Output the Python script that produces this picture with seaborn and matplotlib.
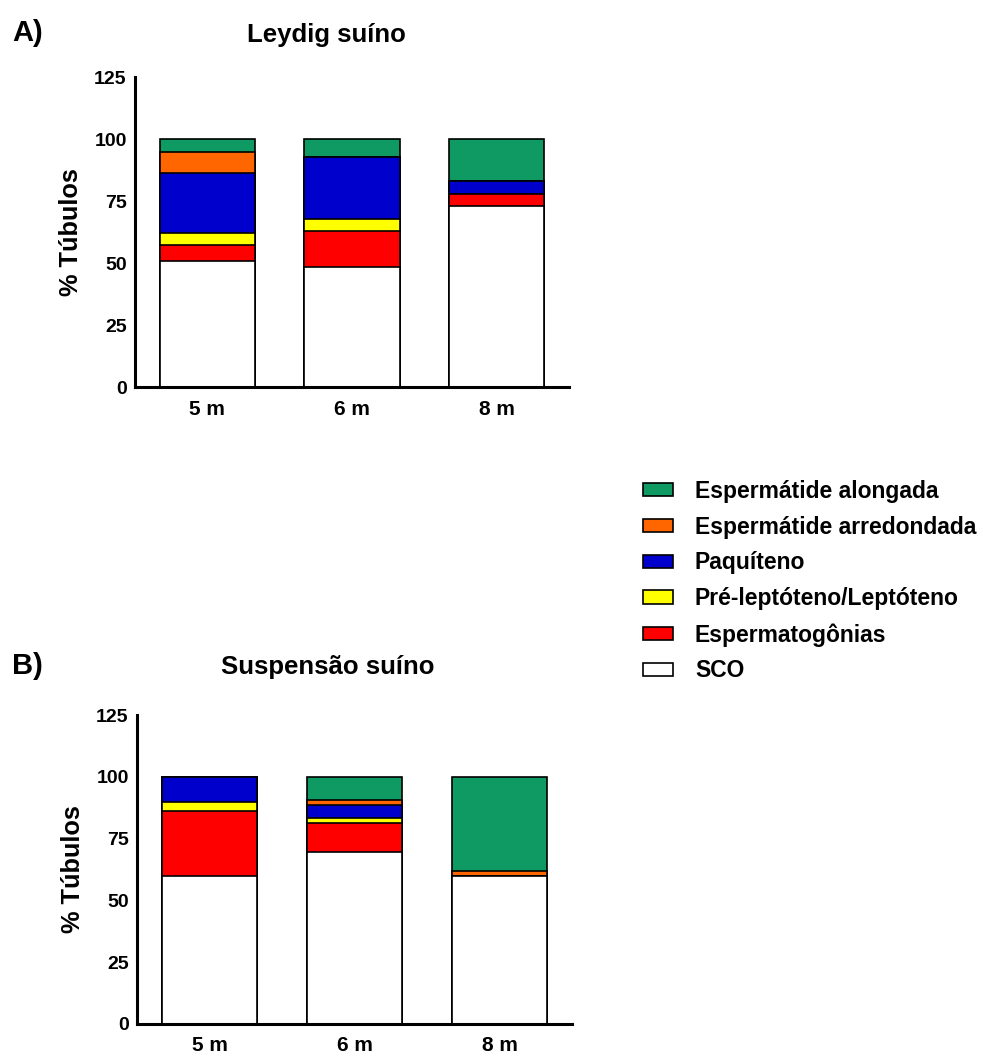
"""Stacked bar charts of seminiferous tubule stages (Leydig vs Suspensao, suino)."""

import matplotlib

matplotlib.use("Agg")
import matplotlib.pyplot as plt
import pandas as pd
import seaborn as sns
from matplotlib.patches import Patch

MONTHS = ["5 m", "6 m", "8 m"]
STAGES = [
    "SCO",
    "Espermatogônias",
    "Pré-leptóteno/Leptóteno",
    "Paquíteno",
    "Espermátide arredondada",
    "Espermátide alongada",
]
COLORS = ["#FFFFFF", "#FF0000", "#FFFF00", "#0000CC", "#FF6600", "#0E9A62"]

# Leydig suino (% tubulos per stage, bottom to top)
leydig_sco = [50.7, 48.6, 72.9]
leydig_espermatogonias = [6.6, 14.4, 5.0]
leydig_preleptoteno = [5.0, 4.9, 0.0]
leydig_paquiteno = [24.1, 24.7, 5.2]
leydig_arredondada = [8.2, 0.0, 0.0]
leydig_alongada = [5.4, 7.4, 16.9]

# Suspensao suino
susp_sco = [60.0, 69.5, 60.0]
susp_espermatogonias = [26.2, 11.8, 0.0]
susp_preleptoteno = [3.6, 2.1, 0.0]
susp_paquiteno = [10.2, 5.1, 0.0]
susp_arredondada = [0.0, 2.1, 2.0]
susp_alongada = [0.0, 9.4, 38.0]

LEYDIG = [leydig_sco, leydig_espermatogonias, leydig_preleptoteno,
          leydig_paquiteno, leydig_arredondada, leydig_alongada]
SUSP = [susp_sco, susp_espermatogonias, susp_preleptoteno,
        susp_paquiteno, susp_arredondada, susp_alongada]

FONT = ["Liberation Sans", "DejaVu Sans"]


def cumulative_frame(series: list[list[float]]) -> pd.DataFrame:
    rows = []
    for i, month in enumerate(MONTHS):
        total = 0.0
        for stage, values in zip(STAGES, series):
            total += values[i]
            rows.append({"month": month, "stage": stage, "top": total})
    return pd.DataFrame(rows)


def draw_panel(ax, series, title, title_x, title_pad):
    df = cumulative_frame(series)
    # draw from the top layer down so lower layers cover the taller bars
    for stage, color in reversed(list(zip(STAGES, COLORS))):
        sub = df[df["stage"] == stage]
        sns.barplot(data=sub, x="month", y="top", order=MONTHS, color=color,
                    saturation=1, width=0.66, edgecolor="black", linewidth=1.2,
                    errorbar=None, ax=ax)
    ax.set_xlim(-0.5, 2.5)
    ax.set_ylim(0, 125)
    ax.set_yticks([0, 25, 50, 75, 100, 125])
    ax.set_xlabel("")
    ax.set_ylabel("% Túbulos", fontsize=18.3, fontweight="bold", labelpad=8)
    ax.set_title(title, fontsize=18.5, fontweight="bold", x=title_x, pad=title_pad)
    for side in ("top", "right"):
        ax.spines[side].set_visible(False)
    for side in ("left", "bottom"):
        ax.spines[side].set_linewidth(2.2)
        ax.spines[side].set_color("black")
    ax.tick_params(axis="both", width=2.2, length=5, color="black", direction="out")
    ax.tick_params(axis="y", labelsize=14, pad=1)
    ax.tick_params(axis="x", labelsize=15, pad=4)
    for lab in ax.get_xticklabels() + ax.get_yticklabels():
        lab.set_fontweight("bold")


sns.set_theme(style="white")
plt.rcParams["font.family"] = FONT
plt.rcParams["text.color"] = "black"
plt.rcParams["axes.labelcolor"] = "black"
plt.rcParams["xtick.color"] = "black"
plt.rcParams["ytick.color"] = "black"

fig = plt.figure(figsize=(9.83, 10.61), dpi=100)
ax_a = fig.add_axes([0.1373, 0.6352, 0.4415, 0.2922])
ax_b = fig.add_axes([0.1394, 0.0349, 0.4425, 0.2912])

draw_panel(ax_a, LEYDIG, "Leydig suíno", 0.442, 25.5)
draw_panel(ax_b, SUSP, "Suspensão suíno", 0.438, 29.5)

fig.text(0.012, 0.969, "A)", fontsize=21, fontweight="bold", va="center")
fig.text(0.012, 0.372, "B)", fontsize=21, fontweight="bold", va="center")

handles = [Patch(facecolor=c, edgecolor="black", linewidth=1.2, label=s)
           for s, c in reversed(list(zip(STAGES, COLORS)))]
fig.legend(handles=handles, loc="upper left", bbox_to_anchor=(0.654, 0.5478),
           frameon=False, prop={"weight": "bold", "size": 16.5}, borderpad=0,
           borderaxespad=0, handlelength=1.31, handleheight=0.52,
           handletextpad=0.96, labelspacing=0.56)

fig.savefig("out.png", dpi=100)
